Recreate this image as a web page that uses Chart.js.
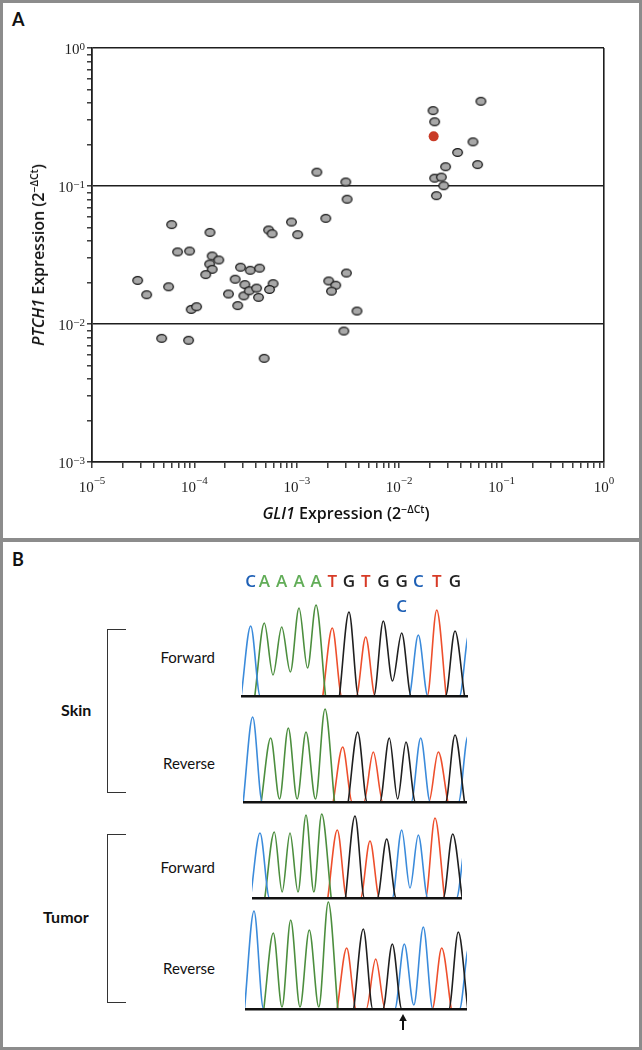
<!DOCTYPE html>
<html>
<head>
<meta charset="utf-8">
<script src="https://cdn.jsdelivr.net/npm/chart.js@4.4.0/dist/chart.umd.min.js"></script>
<style>
  body { margin: 0; background: #fff; }
  #page { position: relative; width: 642px; height: 1050px; overflow: hidden; font-family: Lato, "Open Sans", sans-serif; color: #111; }
  .frame { position: absolute; left: 0; width: 642px; box-sizing: border-box; border: 3px solid #8c8c8c; }
  canvas { position: absolute; }
  .lbl { position: absolute; white-space: nowrap; line-height: 18px; }
  .panel { font-weight: 700; font-size: 18px; }
  .strand { font-size: 15px; right: 427px; }
  .tissue { font-weight: 700; font-size: 16px; }
  .bracket { position: absolute; left: 107px; width: 19px; border: 1.6px solid #333; border-right: none; box-sizing: border-box; }
  .title { font-family: "Open Sans", Lato, sans-serif; font-weight: 600; font-size: 16px; transform-origin: center; }
  sup { font-size: 10.5px; vertical-align: 6px; line-height: 0; }
</style>
</head>
<body>
<div id="page">
  <div class="frame" style="top:0;height:541px"></div>
  <div class="frame" style="top:539px;height:511px"></div>

  <div class="lbl panel" style="left:12px;top:10px">A</div>
  <canvas id="scatter" width="642" height="540" style="left:0;top:0"></canvas>
  <div class="lbl title" style="left:346px;top:504px;transform:translateX(-50%)"><i>GLI1</i> Expression (2<sup>−ΔCt</sup>)</div>
  <div class="lbl title" style="left:38px;top:255px;transform:translate(-50%,-50%) rotate(-90deg)"><i>PTCH1</i> Expression (2<sup>−ΔCt</sup>)</div>

  <div class="lbl panel" style="left:12px;top:550px">B</div>
  <canvas id="skinFwd" width="253" height="132" style="left:228px;top:566px"></canvas>
  <canvas id="skinRev" width="224" height="112" style="left:243px;top:692px"></canvas>
  <canvas id="tumorFwd" width="210" height="112" style="left:252px;top:788px"></canvas>
  <canvas id="tumorRev" width="222" height="136" style="left:245px;top:899px"></canvas>

  <div class="bracket" style="top:629px;height:164px"></div>
  <div class="bracket" style="top:834px;height:169px"></div>
  <div class="lbl tissue" style="left:61px;top:701px">Skin</div>
  <div class="lbl tissue" style="left:43px;top:908px">Tumor</div>
  <div class="lbl strand" style="top:648px">Forward</div>
  <div class="lbl strand" style="top:754px">Reverse</div>
  <div class="lbl strand" style="top:858px">Forward</div>
  <div class="lbl strand" style="top:959px">Reverse</div>
</div>

<script>
// ---- Panel A: GLI1 vs PTCH1 expression (2^-dCt) ----
const gli1 = [6.0e-5, 6.85e-5, 8.97e-5, 1.42e-4, 1.49e-4, 1.73e-4, 5.30e-4, 5.74e-4, 8.87e-4, 1.02e-3,
  1.57e-3, 1.92e-3, 3.01e-3, 3.10e-3, 0.0214, 0.0222, 0.0628, 0.0525, 0.0372, 0.0583,
  0.0284, 0.0222, 0.0258, 0.0272, 0.0231, 1.41e-4, 1.49e-4, 1.29e-4, 2.79e-5, 3.42e-5,
  5.60e-5, 9.31e-5, 1.05e-4, 4.79e-5, 8.77e-5, 2.82e-4, 3.51e-4, 4.33e-4, 2.50e-4, 3.11e-4,
  2.15e-4, 3.04e-4, 3.43e-4, 4.05e-4, 4.23e-4, 2.65e-4, 5.87e-4, 5.42e-4, 4.80e-4, 2.05e-3,
  2.40e-3, 2.18e-3, 3.05e-3, 2.88e-3, 3.87e-3];
const ptch1 = [0.0525, 0.0333, 0.0338, 0.0461, 0.0311, 0.0291, 0.0480, 0.0451, 0.0548, 0.0444,
  0.126, 0.0583, 0.107, 0.0802, 0.352, 0.292, 0.411, 0.209, 0.175, 0.143,
  0.138, 0.114, 0.116, 0.1005, 0.0851, 0.0272, 0.0249, 0.0228, 0.0207, 0.0163,
  0.0186, 0.01276, 0.01334, 0.00787, 0.00762, 0.0258, 0.0245, 0.0254, 0.0211, 0.0193,
  0.0165, 0.0160, 0.0174, 0.0182, 0.0156, 0.0136, 0.0196, 0.0178, 0.00564, 0.0205,
  0.0191, 0.0173, 0.0234, 0.00889, 0.01242];
const caseGli1 = [0.0217];
const casePtch1 = [0.229];

const xDecades = [1e-5, 1e-4, 1e-3, 1e-2, 1e-1, 1];
const xExponents = ['−5', '−4', '−3', '−2', '−1', '0'];
const yDecades = [1e-3, 1e-2, 1e-1, 1];
const yExponents = ['−3', '−2', '−1', '0'];
const refLines = [0.01, 0.1, 1];
const minorSteps = [2, 3, 4, 5, 6, 7, 8, 9];

// ---- Panel B: sequencing traces ----
const topCalls = ['C', 'A', 'A', 'A', 'A', 'T', 'G', 'T', 'G', 'G', 'C', 'T', 'G'];
const altIndex = 9;
const altCall = 'C';
const skinCalls = ['C', 'A', 'A', 'A', 'A', 'T', 'G', 'T', 'G', 'G', 'C', 'T', 'G', 'C'];
const tumorCalls = ['C', 'A', 'A', 'A', 'A', 'T', 'G', 'T', 'G', 'C', 'C', 'T', 'G', 'C'];

const skinFwdScans = [20.7, 34.3, 51.7, 69, 86, 102.3, 119, 135.7, 153.3, 171.7, 188.3, 206.7, 225, 239];
const skinFwdHeights = [70, 73, 69, 88, 91, 68, 84, 59, 75, 63, 61, 86, 65, 62];
const skinFwdValleys = [0, 21, 24, 28, 0, 0, 0, 0, 15, 0, 0, 0, 0];

const skinRevScans = [22.7, 40.7, 58.3, 76, 95, 112.7, 127.7, 143.3, 159.3, 176, 190.7, 208.3, 225, 238];
const skinRevHeights = [85, 64, 74, 70, 93, 55, 70, 50, 64, 60, 64, 50, 67, 66];
const skinRevValleys = [0, 3, 3, 3, 0, 0, 0, 0, 3, 0, 0, 0, 0];

const tumorFwdScans = [30, 44.3, 60, 76, 91.7, 107.3, 125, 140, 156.7, 171.7, 188.3, 205, 222.7, 236];
const tumorFwdHeights = [65, 66, 65, 83, 84, 68, 82, 57, 59, 68, 63, 80, 64, 55];
const tumorFwdValleys = [0, 6, 6, 6, 0, 0, 0, 0, 0, 10, 0, 0, 0];

const tumorRevScans = [24, 43.3, 60.7, 79.3, 98.3, 116.7, 133.3, 145.7, 162.3, 174.3, 193.3, 211.7, 228.3, 239];
const tumorRevHeights = [98, 76, 89, 79, 107, 61, 80, 50, 65, 65, 82, 61, 77, 62];
const tumorRevValleys = [0, 2, 2, 2, 0, 0, 0, 0, 0, 4, 0, 0, 0];

const ink = '#1e1e1e';
const channelColor = { C: '#3b8bdb', A: '#4c8e3e', T: '#ee4f2c', G: '#1f1f1f' };
const callColor = { C: '#1d5fb5', A: '#62ad58', T: '#d73a26', G: '#222' };
const peakHalf = 9.5;

function logTicks(decades) {
  const out = [];
  decades.forEach((d, i) => {
    out.push({ value: d });
    if (i < decades.length - 1) minorSteps.forEach(m => out.push({ value: +(m * d).toPrecision(3) }));
  });
  return out;
}

function ellipseDot(rx, ry, fill) {
  const c = document.createElement('canvas');
  c.width = Math.ceil(rx * 2 + 3);
  c.height = Math.ceil(ry * 2 + 3);
  const g = c.getContext('2d');
  g.beginPath();
  g.ellipse(c.width / 2, c.height / 2, rx, ry, 0, 0, Math.PI * 2);
  g.fillStyle = fill;
  g.fill();
  g.lineWidth = 1.3;
  g.strokeStyle = '#1a1a1a';
  g.stroke();
  return c;
}

const powerLabels = {
  id: 'powerLabels',
  afterDraw(chart) {
    const { ctx, chartArea, scales: { x, y } } = chart;
    const big = '15px "Liberation Serif", "DejaVu Serif", serif';
    const small = '11px "Liberation Serif", "DejaVu Serif", serif';
    ctx.save();
    ctx.fillStyle = ink;
    ctx.textAlign = 'left';
    ctx.textBaseline = 'alphabetic';
    xDecades.forEach((v, i) => {
      const px = x.getPixelForValue(v);
      ctx.font = big;
      const wb = ctx.measureText('10').width;
      ctx.font = small;
      const we = ctx.measureText(xExponents[i]).width;
      const left = px - (wb + we) / 2;
      ctx.font = big;
      ctx.fillText('10', left, chartArea.bottom + 29.5);
      ctx.font = small;
      ctx.fillText(xExponents[i], left + wb, chartArea.bottom + 22);
    });
    yDecades.forEach((v, i) => {
      const py = y.getPixelForValue(v);
      ctx.font = big;
      const wb = ctx.measureText('10').width;
      ctx.font = small;
      const we = ctx.measureText(yExponents[i]).width;
      const right = chartArea.left - 7;
      ctx.font = big;
      ctx.fillText('10', right - we - wb, py + 6);
      ctx.font = small;
      ctx.fillText(yExponents[i], right - we, py + 1.5);
    });
    ctx.restore();
  }
};

new Chart(document.getElementById('scatter'), {
  type: 'scatter',
  data: {
    datasets: [
      {
        data: caseGli1.map((v, i) => ({ x: v, y: casePtch1[i] })),
        pointStyle: 'circle', pointRadius: 5, backgroundColor: '#c93b27', borderWidth: 0, order: 0
      },
      {
        data: gli1.map((v, i) => ({ x: v, y: ptch1[i] })),
        pointStyle: ellipseDot(4.8, 3.9, '#a8a8a8'), order: 1
      }
    ]
  },
  options: {
    responsive: false,
    animation: false,
    events: [],
    layout: { padding: { left: 0, top: 48, right: 38, bottom: 0 } },
    plugins: { legend: { display: false }, tooltip: { enabled: false } },
    scales: {
      x: {
        type: 'logarithmic', min: 1e-5, max: 1,
        afterBuildTicks: s => { s.ticks = logTicks(xDecades); },
        afterFit: s => { s.height = 78; },
        ticks: { display: false },
        grid: {
          color: c => (c.tick && c.tick.value === 1 ? ink : 'rgba(0,0,0,0)'),
          lineWidth: 1.6, drawTicks: true, tickLength: 6, tickColor: ink, tickWidth: 1.3
        },
        border: { color: ink, width: 1.8 }
      },
      y: {
        type: 'logarithmic', min: 1e-3, max: 1,
        afterBuildTicks: s => { s.ticks = logTicks(yDecades); },
        afterFit: s => { s.width = 92; },
        ticks: { display: false },
        grid: {
          color: c => (c.tick && refLines.includes(c.tick.value) ? ink : 'rgba(0,0,0,0)'),
          lineWidth: 1.6, drawTicks: true, tickLength: 5, tickColor: ink, tickWidth: 1.3
        },
        border: { color: ink, width: 1.8 }
      }
    }
  },
  plugins: [powerLabels]
});

function peakPoints(calls, scans, heights, valleys, base) {
  const pts = [];
  calls.forEach((c, i) => {
    if (c !== base) return;
    const prevSame = i > 0 && calls[i - 1] === base;
    const nextSame = i < calls.length - 1 && calls[i + 1] === base;
    if (prevSame) pts.push({ x: (scans[i - 1] + scans[i]) / 2, y: valleys[i - 1] });
    else pts.push({ x: scans[i] - peakHalf, y: 0 });
    pts.push({ x: scans[i], y: heights[i] });
    if (!nextSame) pts.push({ x: scans[i] + peakHalf, y: 0 });
  });
  return pts;
}

function traceChart(id, calls, scans, heights, valleys, xMin, xMax, yMax, pad, extra) {
  const datasets = ['G', 'C', 'A', 'T'].map(b => ({
    data: peakPoints(calls, scans, heights, valleys, b),
    borderColor: channelColor[b],
    borderWidth: 1.6,
    pointRadius: 0,
    cubicInterpolationMode: 'monotone',
    fill: false
  }));
  return new Chart(document.getElementById(id), {
    type: 'line',
    data: { datasets },
    options: {
      responsive: false,
      animation: false,
      events: [],
      layout: { padding: pad },
      plugins: { legend: { display: false }, tooltip: { enabled: false } },
      scales: {
        x: {
          type: 'linear', min: xMin, max: xMax,
          grid: { display: false, drawTicks: false },
          ticks: { display: false },
          border: { color: '#111', width: 2.6, z: 1 },
          afterFit: s => { s.height = 2; }
        },
        y: { display: false, min: 0, max: yMax }
      }
    },
    plugins: extra ? [extra] : []
  });
}

const baseCalls = {
  id: 'baseCalls',
  afterDraw(chart) {
    const { ctx, chartArea, scales: { x } } = chart;
    ctx.save();
    ctx.font = '600 17px "Open Sans", Lato, sans-serif';
    ctx.textAlign = 'center';
    ctx.textBaseline = 'middle';
    topCalls.forEach((b, i) => {
      ctx.fillStyle = callColor[b];
      ctx.fillText(b, x.getPixelForValue(skinFwdScans[i]), chartArea.top + 16);
    });
    ctx.fillStyle = callColor[altCall];
    ctx.fillText(altCall, x.getPixelForValue(skinFwdScans[altIndex]), chartArea.top + 41);
    ctx.restore();
  }
};

const mutationArrow = {
  id: 'mutationArrow',
  afterDraw(chart) {
    const { ctx, chartArea, scales: { x } } = chart;
    const px = Math.round(x.getPixelForValue(tumorRevScans[altIndex])) - 1;
    const b = chartArea.bottom;
    ctx.save();
    ctx.fillStyle = '#111';
    ctx.strokeStyle = '#111';
    ctx.lineWidth = 2;
    ctx.beginPath();
    ctx.moveTo(px, b + 10);
    ctx.lineTo(px, b + 21);
    ctx.stroke();
    ctx.beginPath();
    ctx.moveTo(px, b + 5);
    ctx.lineTo(px - 3.8, b + 12);
    ctx.lineTo(px + 3.8, b + 12);
    ctx.closePath();
    ctx.fill();
    ctx.restore();
  }
};

traceChart('skinFwd', skinCalls, skinFwdScans, skinFwdHeights, skinFwdValleys, 12, 237, 130,
  { left: 14, right: 14, top: 0, bottom: 0 }, baseCalls);
traceChart('skinRev', skinCalls, skinRevScans, skinRevHeights, skinRevValleys, 13, 237, 110,
  { left: 0, right: 0, top: 0, bottom: 0 });
traceChart('tumorFwd', tumorCalls, tumorFwdScans, tumorFwdHeights, tumorFwdValleys, 22, 232, 110,
  { left: 0, right: 0, top: 0, bottom: 0 });
traceChart('tumorRev', tumorCalls, tumorRevScans, tumorRevHeights, tumorRevValleys, 15, 237, 110,
  { left: 0, right: 0, top: 0, bottom: 24 }, mutationArrow);
</script>
</body>
</html>
